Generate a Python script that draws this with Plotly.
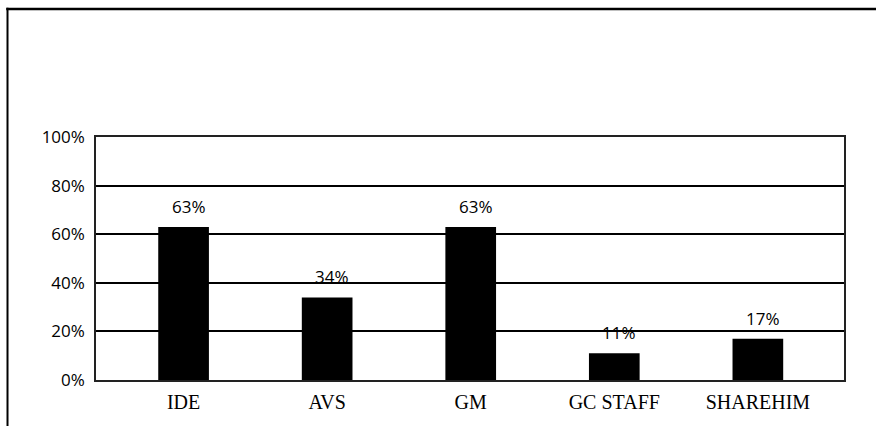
import plotly.graph_objects as go

# Share of respondents per organisation
categories = ["IDE", "AVS", "GM", "GC STAFF", "SHAREHIM"]
shares = [63, 34, 63, 11, 17]
y_ticks = [0, 20, 40, 60, 80, 100]
y_tick_labels = [f"{t}%" for t in y_ticks]

sans = "Open Sans"
serif = "Liberation Serif"

fig = go.Figure(
    go.Bar(
        x=categories,
        y=shares,
        width=0.353,
        marker=dict(color="black", line=dict(width=0)),
        hoverinfo="skip",
    )
)

# Value labels above each bar
for cat, val in zip(categories, shares):
    fig.add_annotation(
        x=cat, y=val, text=f"{val}%", showarrow=False,
        yanchor="bottom", xanchor="center", yshift=7, xshift=5,
        font=dict(family=sans, size=17, color="black", weight=500),
    )

# Frame lines along the top and left edge of the page
fig.add_shape(type="line", xref="paper", yref="paper",
              x0=-0.12, x1=1.05, y0=1.527, y1=1.527,
              line=dict(color="black", width=2.5))
fig.add_shape(type="line", xref="paper", yref="paper",
              x0=-0.1183, x1=-0.1183, y0=-0.2, y1=1.532,
              line=dict(color="black", width=2))

fig.update_layout(
    width=876, height=426,
    margin=dict(l=96, r=32, t=137, b=46),
    paper_bgcolor="white", plot_bgcolor="white",
    showlegend=False,
    xaxis=dict(
        type="category", range=[-0.61, 4.6],
        showgrid=False, showline=True, mirror=True,
        linecolor="#222", linewidth=1.5, ticks="",
        tickfont=dict(family=serif, size=20, color="black"),
        ticklabelstandoff=3,
    ),
    yaxis=dict(
        range=[0, 100], tickvals=y_ticks, ticktext=y_tick_labels,
        showgrid=True, gridcolor="black", gridwidth=1.5,
        showline=True, mirror=True, linecolor="#222", linewidth=1.5,
        ticks="", zeroline=False,
        tickfont=dict(family=sans, size=17, color="black", weight=500),
        ticklabelstandoff=6,
    ),
)

fig.write_html("out.html")
